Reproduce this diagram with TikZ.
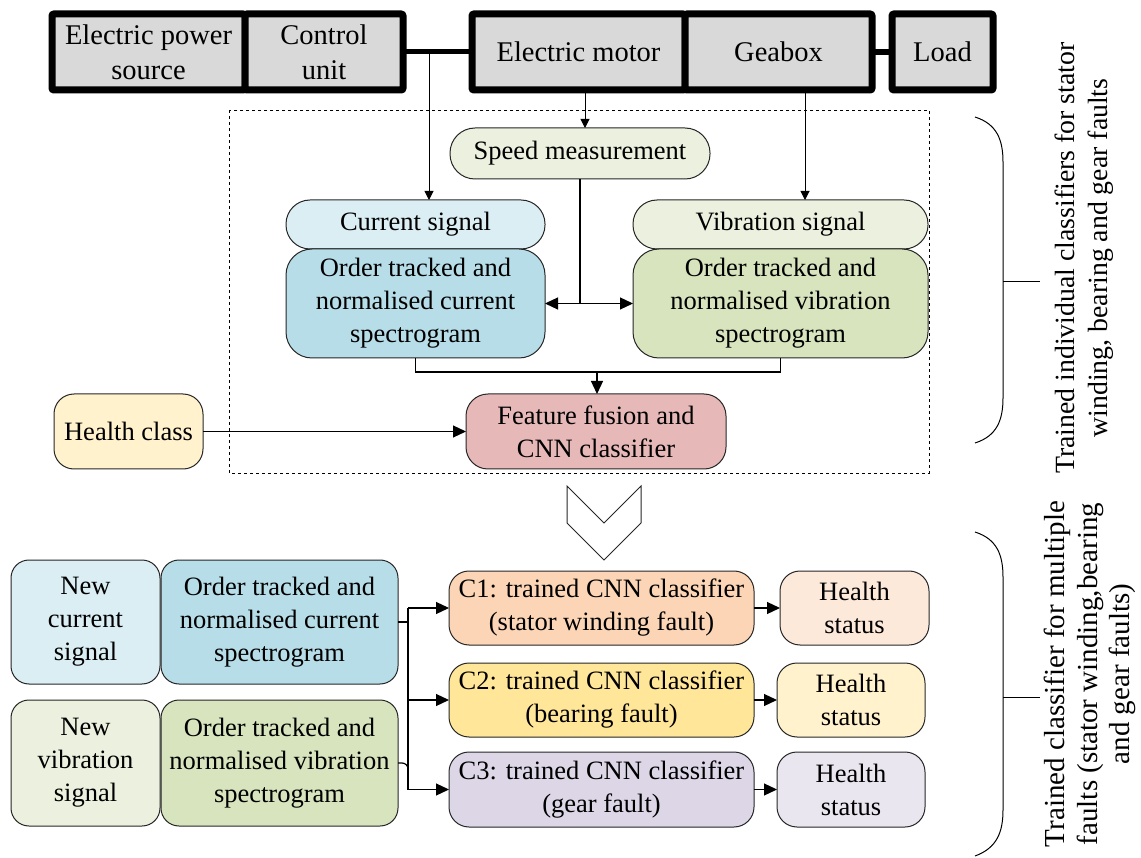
\documentclass[tikz,border=0pt]{standalone}
\usepackage{fontspec}
\setmainfont{Liberation Serif}
\usetikzlibrary{arrows.meta}
\definecolor{topgray}{HTML}{D9D9D9}
\definecolor{spd}{HTML}{EBF1DE}
\definecolor{cursig}{HTML}{DBEEF4}
\definecolor{curord}{HTML}{B7DEE8}
\definecolor{vibsig}{HTML}{EBF1DE}
\definecolor{vibord}{HTML}{D7E4BD}
\definecolor{featc}{HTML}{E6B9B8}
\definecolor{hcls}{HTML}{FFF2CC}
\definecolor{cone}{HTML}{FBD5B5}
\definecolor{ctwo}{HTML}{FFE699}
\definecolor{cthree}{HTML}{DCD6E6}
\definecolor{hsone}{HTML}{FDE9D9}
\definecolor{hstwo}{HTML}{FFF2CC}
\definecolor{hsthree}{HTML}{E9E6F0}
\definecolor{edge}{HTML}{262626}
\begin{document}
\begin{tikzpicture}[x=1pt,y=-1pt,
  font=\fontsize{26.5}{33}\selectfont,
  topbox/.style={draw=black, line width=7pt, fill=topgray, rounded corners=2pt,
    minimum height=76pt, inner sep=0pt, outer sep=0pt, align=center,
    font=\fontsize{28.5}{35}\selectfont},
  rbox/.style={draw=edge, line width=1pt, inner sep=0pt, outer sep=0pt, align=center},
  arr/.style={-{Triangle[length=13pt,width=12pt]}, line width=1.2pt},
  thinarr/.style={-{Triangle[length=9pt,width=9pt]}, line width=1pt},
  conn/.style={line width=1.2pt},
  sidelabel/.style={rotate=90, align=center, inner sep=0pt}]
\useasboundingbox (0,0) rectangle (1141,858);

% top row
\node[topbox, minimum width=193pt] (eps) at (148.5,52) {Electric power\\source};
\node[topbox, minimum width=158pt] (ctrl) at (324,52) {Control\\unit};
\node[topbox, minimum width=213pt] (motor) at (578.5,52) {Electric motor};
\node[topbox, minimum width=187pt] (gear) at (778.5,52) {Geabox};
\node[topbox, minimum width=101pt] (load) at (942.5,52) {Load};
\draw[line width=5pt] (ctrl.east) -- (motor.west);
\draw[line width=6pt] (gear.east) -- (load.west);

% dashed frame
\draw[dashed, line width=0.8pt] (229,110) rectangle (929,473);

% stage 1 nodes
\node[rbox, fill=spd, minimum width=260pt, minimum height=51pt, rounded corners=25pt] (speed) at (580,153.5) {Speed measurement};
\node[rbox, fill=cursig, minimum width=259pt, minimum height=49pt, rounded corners=24pt] (cur) at (415.5,224.5) {Current signal};
\node[rbox, fill=curord, minimum width=259pt, minimum height=109pt, rounded corners=26pt] (ocur) at (415.5,303.5) {Order tracked and\\normalised current\\spectrogram};
\node[rbox, fill=vibsig, minimum width=295pt, minimum height=49pt, rounded corners=24pt] (vib) at (780.5,224.5) {Vibration signal};
\node[rbox, fill=vibord, minimum width=295pt, minimum height=109pt, rounded corners=26pt] (ovib) at (780.5,303.5) {Order tracked and\\normalised vibration\\spectrogram};
\node[rbox, fill=featc, minimum width=260pt, minimum height=75pt, rounded corners=22pt] (feat) at (596,431.5) {Feature fusion and\\CNN classifier};
\node[rbox, fill=hcls, minimum width=149pt, minimum height=75pt, rounded corners=20pt] (hc) at (128.5,431.5) {Health class};

% stage 1 connectors
\coordinate (tap) at (429,52);
\draw[thinarr] (tap) -- (tap |- cur.north);
\draw[thinarr] ([xshift=6.5pt]motor.south) -- ([xshift=6.5pt]motor.south |- speed.north);
\draw[thinarr] ([xshift=26.5pt]gear.south) -- ([xshift=26.5pt]gear.south |- vib.north);
\coordinate (sj) at (speed.south |- ocur.east);
\draw[conn] (speed.south) -- (sj);
\draw[arr] (sj) -- (ocur.east);
\draw[arr] (sj) -- (ovib.west);
\coordinate (mj) at (597,372);
\draw[conn] (ocur.south) |- (mj) -| (ovib.south);
\draw[arr] (mj) -- (mj |- feat.north);
\draw[arr] (hc.east) -- (feat.west);

% chevron
\draw[line width=1pt, draw=edge] (567,486) -- (604,523) -- (641,486) -- (641,523) -- (604,560) -- (567,523) -- cycle;

% stage 2 nodes
\node[rbox, fill=cursig, minimum width=149pt, minimum height=124pt, rounded corners=18pt] (ncur) at (85.5,622) {New\\current\\signal};
\node[rbox, fill=curord, minimum width=237pt, minimum height=124pt, rounded corners=18pt] (lcur) at (279.5,622) {Order tracked and\\normalised current\\spectrogram};
\node[rbox, fill=vibsig, minimum width=149pt, minimum height=126pt, rounded corners=18pt] (nvib) at (85.5,763) {New\\vibration\\signal};
\node[rbox, fill=vibord, minimum width=237pt, minimum height=126pt, rounded corners=18pt] (lvib) at (279.5,763) {Order tracked and\\normalised vibration\\spectrogram};

\node[rbox, fill=cone, minimum width=305pt, minimum height=74pt, rounded corners=20pt] (c1) at (601.5,608) {C1: trained CNN classifier\\(stator winding fault)};
\node[rbox, fill=ctwo, minimum width=305pt, minimum height=74pt, rounded corners=20pt] (c2) at (601.5,700) {C2: trained CNN classifier\\(bearing fault)};
\node[rbox, fill=cthree, minimum width=305pt, minimum height=75pt, rounded corners=20pt] (c3) at (601.5,789.5) {C3: trained CNN classifier\\(gear fault)};
\node[rbox, fill=hsone, minimum width=149pt, minimum height=74pt, rounded corners=20pt] (hs1) at (854.5,608) {Health\\status};
\node[rbox, fill=hstwo, minimum width=148pt, minimum height=74pt, rounded corners=20pt] (hs2) at (851,700) {Health\\status};
\node[rbox, fill=hsthree, minimum width=148pt, minimum height=75pt, rounded corners=20pt] (hs3) at (851,789.5) {Health\\status};

% stage 2 connectors
\coordinate (bus) at (408,700);
\draw[conn] (lcur.east) -- (lcur.east -| bus);
\draw[conn, rounded corners=6pt] (lvib.east) -- (lvib.east -| bus) -- ([yshift=-10pt]lvib.east -| bus);
\draw[conn] (c1.west -| bus) -- (c3.west -| bus);
\draw[arr] (c1.west -| bus) -- (c1.west);
\draw[arr] (c2.west -| bus) -- (c2.west);
\draw[arr] (c3.west -| bus) -- (c3.west);
\draw[arr] (c1.east) -- (hs1.west);
\draw[arr] (c2.east) -- (hs2.west);
\draw[arr] (c3.east) -- (hs3.west);

% braces
\draw[line width=1pt] (975,117) .. controls (997,124) and (1003,140) .. (1003,162) -- (1003,398) .. controls (1003,420) and (997,436) .. (975,443);
\draw[line width=1pt] (1003,282) -- (1040,282);
\draw[line width=1pt] (975,532) .. controls (997,539) and (1003,555) .. (1003,577) -- (1003,810) .. controls (1003,832) and (997,848) .. (975,856);
\draw[line width=1pt] (1003,697) -- (1040,697);

\node[sidelabel, font=\fontsize{27.8}{33}\selectfont] (lbl1) at (1084,258) {Trained individual classifiers for stator\\winding, bearing and gear faults};
\node[sidelabel, font=\fontsize{29}{32.5}\selectfont] (lbl2) at (1090,674) {Trained classifier for multiple\\faults (stator winding,bearing\\and gear faults)};
\end{tikzpicture}
\end{document}
